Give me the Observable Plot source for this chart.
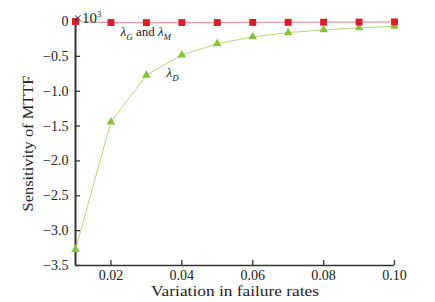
<!DOCTYPE html>
<html>
<head>
<meta charset="utf-8">
<script src="https://cdn.jsdelivr.net/npm/d3@7"></script>
<script src="https://cdn.jsdelivr.net/npm/@observablehq/plot@0.6"></script>
<style>
  html, body { margin: 0; padding: 0; background: #fff; }
  #chart svg { display: block; }
</style>
</head>
<body>
<div id="chart"></div>
<script>
const variation = [0.01, 0.02, 0.03, 0.04, 0.05, 0.06, 0.07, 0.08, 0.09, 0.10];
const lambdaGM = [0, -0.015, -0.016, -0.015, -0.015, -0.013, -0.012, -0.010, -0.008, -0.006];
const lambdaD = [-3.27, -1.44, -0.77, -0.48, -0.32, -0.22, -0.16, -0.12, -0.09, -0.07];
const xTicks = [0.02, 0.04, 0.06, 0.08, 0.10];
const yTicks = [0, -0.5, -1.0, -1.5, -2.0, -2.5, -3.0, -3.5];
const annotations = [
  {x: 0.0227, y: -0.15, label: "λG and λM"},
  {x: 0.0357, y: -0.73, label: "λD"}
];
const xLabel = "Variation in failure rates";
const yLabel = "Sensitivity of MTTF";

const gm = variation.map((x, i) => ({x, y: lambdaGM[i]}));
const dd = variation.map((x, i) => ({x, y: lambdaD[i]}));

const fmtY = d => d === 0 ? "0" : "\u2212" + Math.abs(d).toFixed(1);
const FONT = "Liberation Serif";

const chart = Plot.plot({
  width: 435,
  height: 302,
  marginLeft: 75,
  marginRight: 41,
  marginTop: 21,
  marginBottom: 37,
  style: {fontFamily: FONT, fontSize: "14px", background: "#fff"},
  x: {domain: [0.01, 0.10]},
  y: {domain: [-3.5, 0]},
  marks: [
    Plot.axisX({ticks: xTicks, tickFormat: d => d.toFixed(2), tickSize: -5, tickPadding: 10, label: null, stroke: "#333", strokeWidth: 1.3, fill: "#222", fontSize: 14, fontFamily: FONT}),
    Plot.axisY({ticks: yTicks, tickFormat: fmtY, tickSize: -5, tickPadding: 12, label: null, stroke: "#333", strokeWidth: 1.3, fill: "#222", fontSize: 14, fontFamily: FONT}),
    Plot.ruleY([-3.5], {stroke: "#333", strokeWidth: 1.5}),
    Plot.ruleX([0.01], {stroke: "#333", strokeWidth: 2}),
    Plot.line(dd, {x: "x", y: "y", stroke: "#a9d26c", strokeWidth: 0.9}),
    Plot.line(gm, {x: "x", y: "y", stroke: "#e39a9a", strokeWidth: 1.2}),
    Plot.dot(dd, {x: "x", y: "y", symbol: "triangle", r: 3.2, fill: "#86c13a", stroke: "none"}),
    Plot.dot(gm, {x: "x", y: "y", symbol: "square", r: 3.9, fill: "#d81c2c", stroke: "none"}),
    Plot.text(annotations, {x: "x", y: "y", text: "label", textAnchor: "start", fill: "#222", fontSize: 13, fontFamily: FONT}),
    Plot.text(["×10³"], {frameAnchor: "top-left", textAnchor: "start", dx: -2, dy: -9, fill: "#222", fontSize: 15, fontFamily: FONT}),
    Plot.text([yLabel], {frameAnchor: "left", textAnchor: "middle", rotate: -90, dx: -47, fill: "#222", fontSize: 15, fontFamily: FONT}),
    Plot.text([xLabel], {frameAnchor: "bottom", textAnchor: "middle", dy: 30, fill: "#222", fontSize: 14, fontFamily: FONT})
  ]
});

document.getElementById("chart").appendChild(chart);

const svgNS = "http://www.w3.org/2000/svg";
chart.querySelectorAll("text").forEach(t => {
  const s = t.textContent;
  // the reference text is slightly stretched horizontally
  if (s === xLabel) { t.setAttribute("textLength", "168"); t.setAttribute("lengthAdjust", "spacingAndGlyphs"); }
  if (s === yLabel) { t.setAttribute("textLength", "136"); t.setAttribute("lengthAdjust", "spacingAndGlyphs"); }
  if (s === "×10³") {
    const holder = t.querySelector("tspan") || t;
    while (holder.firstChild) holder.removeChild(holder.firstChild);
    const a = document.createElementNS(svgNS, "tspan");
    a.textContent = "×10";
    const b = document.createElementNS(svgNS, "tspan");
    b.textContent = "3";
    b.setAttribute("font-size", "9");
    b.setAttribute("dy", "-6");
    holder.appendChild(a); holder.appendChild(b);
    return;
  }
  let parts = null;
  if (s === "λG and λM") parts = [["λ", "it"], ["G", "sub"], [" and ", ""], ["λ", "it"], ["M", "sub"]];
  else if (s === "λD") parts = [["λ", "it"], ["D", "sub"]];
  if (!parts) return;
  const holder = t.querySelector("tspan") || t;
  while (holder.firstChild) holder.removeChild(holder.firstChild);
  let shifted = false;
  parts.forEach(([str, kind]) => {
    const ts = document.createElementNS(svgNS, "tspan");
    ts.textContent = str;
    if (kind === "it") ts.setAttribute("font-style", "italic");
    if (kind === "sub") {
      ts.setAttribute("font-style", "italic");
      ts.setAttribute("font-size", "9");
      ts.setAttribute("dy", "4");
      shifted = true;
    } else if (shifted) {
      ts.setAttribute("dy", "-4");
      shifted = false;
    }
    holder.appendChild(ts);
  });
});
</script>
</body>
</html>
